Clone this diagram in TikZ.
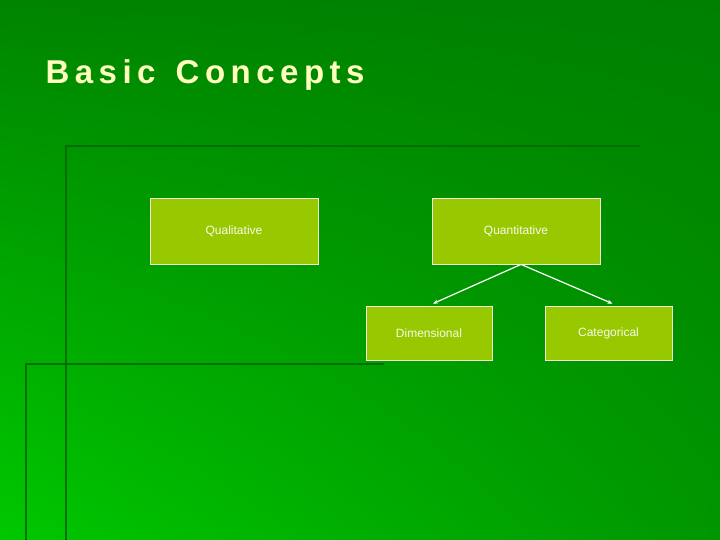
\documentclass[tikz,border=0pt]{standalone}
\usepackage{fontspec}
\setmainfont{Liberation Sans}
\usetikzlibrary{arrows.meta,positioning,calc,shadings}
\definecolor{boxgreen}{RGB}{152,200,0}
\definecolor{titleyellow}{RGB}{255,255,190}
\definecolor{linegreen}{RGB}{0,110,0}
\definecolor{bgll}{RGB}{0,200,0}
\definecolor{bgul}{RGB}{0,132,0}
\definecolor{bgur}{RGB}{0,128,0}
\definecolor{bglr}{RGB}{0,150,0}
\begin{document}
\begin{tikzpicture}[x=1pt,y=-1pt,
  conceptbox/.style={draw=white!85!boxgreen,fill=boxgreen,text=white!92!boxgreen,line width=0.8pt,font=\fontsize{12}{14}\selectfont,inner sep=0pt}]
  \useasboundingbox (0,0) rectangle (720,540);
  \shade[lower left=bgll,upper left=bgul,upper right=bgur,lower right=bglr] (0,0) rectangle (720,540);
  \draw[linegreen,line width=2pt] (66,540) -- (66,146) -- (640,146);
  \draw[linegreen,line width=2pt] (26,540) -- (26,364) -- (384,364);
  \node[anchor=west,text=titleyellow,font=\bfseries\fontsize{33}{38}\selectfont] (title) at (42,75) {B\,a\,s\,i\,c\, \,C\,o\,n\,c\,e\,p\,t\,s};
  \node[conceptbox,minimum width=168,minimum height=66] (quali) at (234,231) {Qualitative};
  \node[conceptbox,minimum width=168,minimum height=66] (quanti) at (516,231) {Quantitative};
  \node[conceptbox,minimum width=126,minimum height=54] (dim) at (429,333) {Dimensional};
  \node[conceptbox,minimum width=127,minimum height=54] (cat) at (608.5,333) {Categorical};
  \coordinate (split) at ($(quanti.south)+(5,0)$);
  \draw[white,line width=1.2pt,-{Stealth[length=5pt,width=4pt]}] (split) -- ($(dim.north)+(4,-2)$);
  \draw[white,line width=1.2pt,-{Stealth[length=5pt,width=4pt]}] (split) -- ($(cat.north)+(4,-2)$);
\end{tikzpicture}
\end{document}
